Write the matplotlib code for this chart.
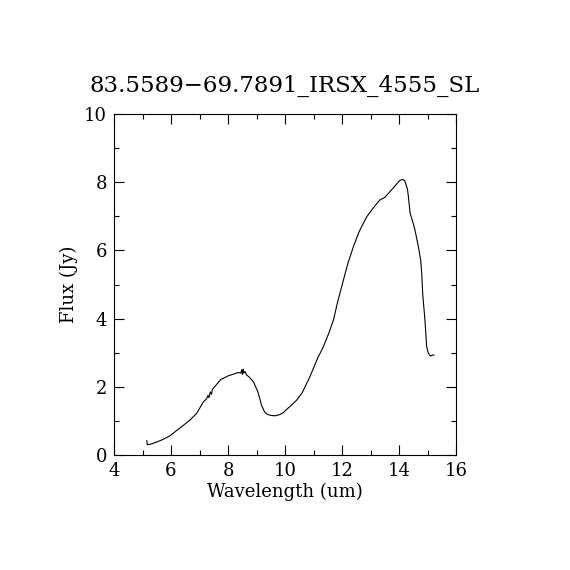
import matplotlib
matplotlib.use('Agg')
import matplotlib.pyplot as plt
from matplotlib.ticker import MultipleLocator

title = '83.5589\u221269.7891_IRSX_4555_SL'

# spectrum
wave = [5.15, 5.17, 5.30, 5.50, 5.70, 5.96, 6.20, 6.45, 6.67, 6.90, 7.13,
        7.25, 7.30, 7.33, 7.38, 7.42, 7.45, 7.49, 7.55, 7.65, 7.75, 7.84,
        8.00, 8.19, 8.35, 8.45, 8.48, 8.51, 8.53, 8.56, 8.60, 8.65, 8.75,
        8.89, 9.05, 9.18, 9.28, 9.36, 9.50, 9.65, 9.80, 9.94, 10.06, 10.20,
        10.41, 10.60, 10.76, 10.85, 11.00, 11.15, 11.35, 11.55, 11.70, 11.85,
        12.05, 12.20, 12.40, 12.60, 12.87, 13.10, 13.33, 13.51, 13.68, 13.85,
        13.98, 14.05, 14.13, 14.20, 14.25, 14.30, 14.33, 14.39, 14.48, 14.56,
        14.68, 14.76, 14.80, 14.83, 14.91, 14.97, 15.03, 15.11, 15.17, 15.23]
flux = [0.42, 0.30, 0.32, 0.38, 0.45, 0.56, 0.72, 0.88, 1.03, 1.22, 1.55,
        1.65, 1.75, 1.68, 1.85, 1.78, 1.92, 1.96, 2.02, 2.12, 2.22, 2.25,
        2.32, 2.37, 2.42, 2.40, 2.50, 2.36, 2.52, 2.40, 2.45, 2.35, 2.28,
        2.15, 1.85, 1.45, 1.27, 1.20, 1.16, 1.15, 1.18, 1.24, 1.34, 1.44,
        1.61, 1.82, 2.10, 2.25, 2.55, 2.85, 3.18, 3.60, 3.96, 4.50,
        5.13, 5.60, 6.11, 6.55, 6.99, 7.25, 7.48, 7.56, 7.72, 7.88,
        8.01, 8.06, 8.08, 8.05, 7.92, 7.78, 7.57, 7.09, 6.85, 6.60,
        6.11, 5.72, 5.30, 4.74, 3.96, 3.18, 2.98, 2.90, 2.93, 2.93]

fig = plt.figure(figsize=(5.7, 5.7), dpi=100)
ax = fig.add_axes([114 / 570, 1 - 455 / 570, 342 / 570, 341 / 570])

ax.plot(wave, flux, color='black', lw=0.8)

ax.set_xlim(4, 16)
ax.set_ylim(0, 10)
ax.xaxis.set_major_locator(MultipleLocator(2))
ax.xaxis.set_minor_locator(MultipleLocator(1))
ax.yaxis.set_major_locator(MultipleLocator(2))
ax.yaxis.set_minor_locator(MultipleLocator(1))
ax.tick_params(which='both', direction='in', top=True, right=True,
               labelsize=13, width=0.8)
ax.tick_params(which='major', length=7, pad=5)
ax.tick_params(which='minor', length=3.5)
for lab in ax.get_xticklabels() + ax.get_yticklabels():
    lab.set_family('DejaVu Serif')
for s in ax.spines.values():
    s.set_linewidth(0.8)

ax.set_xlabel('Wavelength (um)', family='DejaVu Serif', fontsize=13, labelpad=2)
ax.set_ylabel('Flux (Jy)', family='DejaVu Serif', fontsize=13)
ax.set_title(title, family='DejaVu Serif', fontsize=16.5, pad=16)

fig.savefig('out.png', dpi=100)
